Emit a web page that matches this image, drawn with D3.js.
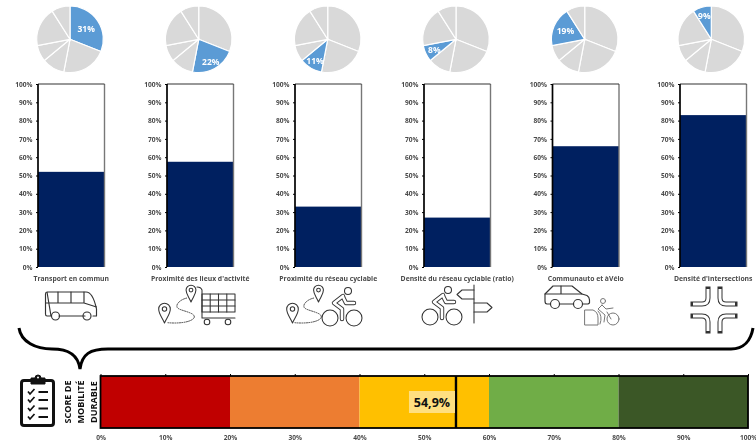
<!DOCTYPE html>
<html>
<head>
<meta charset="utf-8">
<script src="https://cdn.jsdelivr.net/npm/d3@7"></script>
<style>
html, body { margin: 0; padding: 0; background: #fff; }
svg { display: block; filter: blur(0.4px); }
text { font-family: "Open Sans", "Noto Sans", sans-serif; font-weight: 700; fill: #4a4a4a; }
.axis path { display: none; }
.axis line { stroke: #000; stroke-width: 1; }
.icon { fill: none; stroke: #333; stroke-width: 1.05; stroke-linecap: round; stroke-linejoin: round; }
</style>
</head>
<body>
<div id="chart"></div>
<script>
var categories = [
    "Transport en commun",
    "Proximité des lieux d'activité",
    "Proximité du réseau cyclable",
    "Densité du réseau cyclable (ratio)",
    "Communauto et àVélo",
    "Densité d'intersections"
];
var pie_shares = [31, 22, 11, 8, 19, 9];
var bar_values = [52, 57.5, 33, 27, 66, 83];
var bar_ticks = [0, 10, 20, 30, 40, 50, 60, 70, 80, 90, 100];
var score_band_widths = [20, 20, 20, 20, 20];
var score_band_colors = ["#c00000", "#ed7d31", "#ffc000", "#70ad47", "#3b5726"];
var score_ticks = [0, 10, 20, 30, 40, 50, 60, 70, 80, 90, 100];
var score_value = 54.9;
var score_title = ["SCORE DE", "MOBILITÉ", "DURABLE"];

// layout
var svg_size = { width: 756, height: 444 };
var panel_left = [38, 167, 295, 424, 552.5, 680];
var panel_width = 66.5;
var pie_center_x = [70, 198.7, 327.7, 456, 584.7, 711.3];
var pie_center_y = 39.3;
var pie_radius = 33.3;
var pie_label_radius = [19.5, 25, 25, 24, 21, 25];
var bar_top = 84;
var bar_bottom = 267;
var score_left = 100.5;
var score_right = 748;
var score_top = 376;
var score_bottom = 428;

var svg = d3.select("#chart")
    .append("svg")
    .attr("width", svg_size.width)
    .attr("height", svg_size.height);

function drawPie(i) {
    var g = svg.append("g")
        .attr("transform", "translate(" + pie_center_x[i] + "," + pie_center_y + ")");
    var slices = d3.pie().sort(null).value(function(d){ return d; })(pie_shares);
    var arc = d3.arc().innerRadius(0).outerRadius(pie_radius);

    g.selectAll("path")
        .data(slices)
        .enter()
        .append("path")
        .attr("d", arc)
        .attr("fill", function(d, k){ return k === i ? "#5b9bd5" : "#d9d9d9"; })
        .attr("stroke", "#fff")
        .attr("stroke-width", 1.2);

    var label_arc = d3.arc().innerRadius(pie_label_radius[i]).outerRadius(pie_label_radius[i]);
    var c = label_arc.centroid(slices[i]);
    g.append("text")
        .attr("x", c[0])
        .attr("y", c[1])
        .attr("text-anchor", "middle")
        .attr("dominant-baseline", "central")
        .style("fill", "#fff")
        .style("font-size", "8.5px")
        .text(pie_shares[i] + "%");
}

function drawBar(i) {
    var x = d3.scaleBand()
        .domain([categories[i]])
        .range([panel_left[i], panel_left[i] + panel_width]);
    var y = d3.scaleLinear().domain([0, 100]).range([bar_bottom, bar_top]);

    svg.append("rect")
        .attr("x", x(categories[i]))
        .attr("y", y(bar_values[i]))
        .attr("width", x.bandwidth())
        .attr("height", y(0) - y(bar_values[i]))
        .attr("fill", "#002060");

    // frame: the left edge is heavier, the right one is grey
    svg.append("path")
        .attr("d", d3.line()([
            [x.range()[1], y(0)], [x.range()[1], y(100)]
        ]))
        .attr("stroke", "#777")
        .attr("stroke-width", 1.4);
    svg.append("path")
        .attr("d", d3.line()([
            [x.range()[0], y(100)], [x.range()[1], y(100)]
        ]))
        .attr("stroke", "#333")
        .attr("stroke-width", 1.2);
    svg.append("path")
        .attr("d", d3.line()([
            [x.range()[0], y(0)], [x.range()[0], y(100)]
        ]))
        .attr("stroke", "#000")
        .attr("stroke-width", 1.7);

    var axis = d3.axisLeft(y)
        .tickValues(bar_ticks)
        .tickFormat(function(d){ return d + "%"; })
        .tickSize(2)
        .tickPadding(3.5);
    var axis_group = svg.append("g")
        .classed("axis", true)
        .attr("transform", "translate(" + panel_left[i] + ",0)")
        .call(axis);
    axis_group.selectAll("text").style("font-size", "6.6px");

    svg.append("text")
        .attr("x", panel_left[i] + panel_width / 2)
        .attr("y", 278)
        .attr("text-anchor", "middle")
        .attr("dominant-baseline", "central")
        .style("font-size", "6.8px")
        .text(categories[i]);
}

function drawScore() {
    var x = d3.scaleLinear().domain([0, 100]).range([score_left, score_right]);
    var starts = d3.cumsum(score_band_widths);

    svg.selectAll(".score-band")
        .data(score_band_widths)
        .enter()
        .append("rect")
        .classed("score-band", true)
        .attr("x", function(d, i){ return x(starts[i] - d); })
        .attr("y", score_top)
        .attr("width", function(d){ return x(d) - x(0); })
        .attr("height", score_bottom - score_top)
        .attr("fill", function(d, i){ return score_band_colors[i]; });

    svg.append("rect")
        .attr("x", score_left)
        .attr("y", score_top)
        .attr("width", score_right - score_left)
        .attr("height", score_bottom - score_top)
        .attr("fill", "none")
        .attr("stroke", "#000")
        .attr("stroke-width", 1.8);

    svg.append("g")
        .classed("axis", true)
        .attr("transform", "translate(0," + score_top + ")")
        .call(d3.axisTop(x).tickValues(score_ticks).tickFormat("").tickSize(2));

    var bottom_axis = svg.append("g")
        .classed("axis", true)
        .attr("transform", "translate(0," + score_bottom + ")")
        .call(d3.axisBottom(x)
            .tickValues(score_ticks)
            .tickFormat(function(d){ return d + "%"; })
            .tickSize(0)
            .tickPadding(7));
    bottom_axis.selectAll("text").style("font-size", "6.6px");

    // marker for the score and its label
    svg.append("line")
        .attr("x1", x(score_value))
        .attr("x2", x(score_value))
        .attr("y1", score_top)
        .attr("y2", score_bottom)
        .attr("stroke", "#000")
        .attr("stroke-width", 2.4);

    svg.append("rect")
        .attr("x", x(score_value) - 47)
        .attr("y", 391)
        .attr("width", 46)
        .attr("height", 22)
        .attr("fill", "#ffdf80");

    svg.append("text")
        .attr("x", x(score_value) - 24)
        .attr("y", 402.5)
        .attr("text-anchor", "middle")
        .attr("dominant-baseline", "central")
        .style("font-size", "12.5px")
        .style("fill", "#111")
        .text(String(score_value).replace(".", ",") + "%");

    svg.selectAll(".score-title")
        .data(score_title)
        .enter()
        .append("text")
        .classed("score-title", true)
        .attr("transform", function(d, i){
            return "translate(" + (67 + 13 * i) + ",402) rotate(-90)";
        })
        .attr("text-anchor", "middle")
        .attr("dominant-baseline", "central")
        .style("font-size", "9px")
        .style("fill", "#111")
        .text(function(d){ return d; });
}

function drawBrace() {
    var path = d3.path();
    path.moveTo(19, 328);
    path.bezierCurveTo(21, 342, 36, 349, 52, 349);
    path.bezierCurveTo(68, 349, 78, 354, 80, 369);
    path.bezierCurveTo(82, 354, 90, 349, 108, 349);
    path.lineTo(731, 349);
    path.bezierCurveTo(744, 349, 751, 340, 753, 328);
    svg.append("path")
        .attr("d", path.toString())
        .attr("fill", "none")
        .attr("stroke", "#000")
        .attr("stroke-width", 3);
}

// icons
function iconGroup() {
    return svg.append("g").classed("icon", true);
}

function drawPin(g, cx, top, h) {
    var w = h * 0.29;
    g.append("path").attr("d",
        "M" + cx + "," + (top + h) +
        " C" + (cx - w * 0.4) + "," + (top + h * 0.72) + " " + (cx - w) + "," + (top + h * 0.55) + " " + (cx - w) + "," + (top + h * 0.3) +
        " A" + w + "," + w + " 0 1 1 " + (cx + w) + "," + (top + h * 0.3) +
        " C" + (cx + w) + "," + (top + h * 0.55) + " " + (cx + w * 0.4) + "," + (top + h * 0.72) + " " + cx + "," + (top + h) + "Z");
    g.append("circle").attr("cx", cx).attr("cy", top + h * 0.3).attr("r", h * 0.11);
}

function drawRoute(g, dx) {
    // dotted way between the two pins
    g.append("path")
        .attr("transform", "translate(" + dx + ",0)")
        .attr("d", "M168,322.7 C176,323.5 190,323 194,318 C197,312 178,311 177,307 C176,303 182,299 187,298")
        .attr("stroke-dasharray", "1 1.3")
        .attr("stroke-width", 0.9);
}

// the rider is a thick dark line with a thinner white one on top, which leaves an outline
function drawCyclist(x0, wheel_y, r, color) {
    var limbs = [
        [[x0 + 13, wheel_y - 22], [x0 + 4, wheel_y - 15], [x0 + 12, wheel_y - 9], [x0 + 12, wheel_y + 1]],
        [[x0 + 13, wheel_y - 21], [x0 + 16, wheel_y - 15], [x0 + 24, wheel_y - 15]]
    ];
    var line = d3.line();
    var g = iconGroup().style("stroke", color);
    g.append("circle").attr("cx", x0).attr("cy", wheel_y).attr("r", r);
    g.append("circle").attr("cx", x0 + 24).attr("cy", wheel_y).attr("r", r);
    g.append("circle").attr("cx", x0 + 18).attr("cy", wheel_y - 27).attr("r", 3.5);
    limbs.forEach(function(limb){
        g.append("path").attr("d", line(limb)).style("stroke-width", 4.4);
    });
    limbs.forEach(function(limb){
        g.append("path").attr("d", line(limb)).style("stroke", "#fff").style("stroke-width", 2.6);
    });
}

function drawBus() {
    var g = iconGroup().style("stroke-width", 1.15);
    g.append("path").attr("d", "M47,292 H86 C92,292 95,302 96.5,309 V316 H93 M85,316 H59 M51,316 H47 Q45.5,316 45.5,314 V294 Q45.5,292 47,292Z");
    g.append("path").attr("d", "M45.5,303 H84 L96.5,307 M58,292 V303 M71,292 V303 M84,292 V303");
    g.append("circle").attr("cx", 55.5).attr("cy", 316).attr("r", 4);
    g.append("circle").attr("cx", 87).attr("cy", 316).attr("r", 4);
}

function drawCart() {
    var g = iconGroup();
    drawPin(g, 164.5, 303, 20);
    drawPin(g, 191, 285, 17);
    drawRoute(g, 0);
    var c = iconGroup();
    c.append("path").attr("d", "M197,287 Q201,287 202,290 V318 H235");
    c.append("rect").attr("x", 202).attr("y", 294).attr("width", 33).attr("height", 18);
    c.append("path").attr("d", "M202,300 H235 M202,306 H235 M210.2,294 V312 M218.5,294 V312 M226.8,294 V312");
    c.append("circle").attr("cx", 207).attr("cy", 322).attr("r", 2.8);
    c.append("circle").attr("cx", 228).attr("cy", 322).attr("r", 2.8);
}

function drawCycleRoute() {
    var g = iconGroup();
    drawPin(g, 292.5, 303, 20);
    drawPin(g, 318.5, 285, 17);
    drawRoute(g, 127);
    drawCyclist(330, 318, 8, "#333");
}

function drawCycleSign() {
    drawCyclist(430, 317, 8, "#333");
    var g = iconGroup();
    g.append("path").attr("d", "M474,285 V323");
    g.append("path").attr("d", "M474,290 H462 L457,294.5 L462,299 H474");
    g.append("path").attr("d", "M474,303 H487 L492,307.5 L487,312 H474");
}

function drawCarScooter() {
    var g = iconGroup().style("stroke-width", 1.15);
    g.append("path").attr("d", "M550.5,304 H547 Q545,304 545,301 V294 L553,286 H572 L582,294 L587,295.5 Q589.5,297 589.5,300 V303 L588,304 H582.5 M573.5,304 H559.5");
    g.append("path").attr("d", "M545,294 H582 M561,286 V294");
    g.append("circle").attr("cx", 555).attr("cy", 304).attr("r", 4.5);
    g.append("circle").attr("cx", 578).attr("cy", 304).attr("r", 4.5);

    var s = iconGroup().style("stroke", "#777").style("stroke-width", 1);
    s.append("path").attr("d", "M585,310 H593 Q598,312 598,318 V325 H585Z");
    s.append("path").attr("d", "M598,311 Q603,316 600,324");
    s.append("circle").attr("cx", 613).attr("cy", 319).attr("r", 6);
    s.append("circle").attr("cx", 603).attr("cy", 301).attr("r", 2.5);
    s.append("path").attr("d", "M602,305 L598,309 L605,315 L604,322 M602,305 L606,309 L613,308 M607,312 L611,319");
}

function drawIntersection() {
    var corners = [[1, 1], [-1, 1], [1, -1], [-1, -1]];
    var g = svg.append("g")
        .attr("fill", "none")
        .attr("transform", "translate(714,310)");
    corners.forEach(function(c){
        // outer stroke with square caps closes the two ends of the inner white stroke
        g.append("path")
            .attr("d", "M-6,-21 V-12 Q-6,-6 -12,-6 H-21")
            .attr("transform", "scale(" + c[0] + "," + c[1] + ")")
            .attr("stroke", "#333")
            .attr("stroke-width", 5)
            .attr("stroke-linecap", "square");
        g.append("path")
            .attr("d", "M-6,-21 V-12 Q-6,-6 -12,-6 H-21")
            .attr("transform", "scale(" + c[0] + "," + c[1] + ")")
            .attr("stroke", "#fff")
            .attr("stroke-width", 3);
    });
}

function drawClipboard() {
    var g = svg.append("g").attr("fill", "none").attr("stroke", "#111");
    g.append("rect")
        .attr("x", 21.5).attr("y", 380.5).attr("width", 32).attr("height", 45).attr("rx", 2.5)
        .attr("stroke-width", 3);
    g.append("path")
        .attr("d", "M31,384 V378 H35 A3,3 0 0 1 41,378 H45 V384Z")
        .attr("fill", "#111")
        .attr("stroke-width", 1);
    g.append("circle").attr("cx", 38).attr("cy", 377.5).attr("r", 1).attr("fill", "#fff").attr("stroke", "none");
    [392, 400, 408.5, 417].forEach(function(ly){
        g.append("path").attr("d", "M28," + (ly - 0.5) + " L30," + (ly + 2) + " L34.5," + (ly - 3))
            .attr("stroke-width", 1.7);
        g.append("path").attr("d", "M38.5," + ly + " H48").attr("stroke-width", 2);
    });
}

pie_shares.forEach(function(d, i){
    drawPie(i);
    drawBar(i);
});
drawBus();
drawCart();
drawCycleRoute();
drawCycleSign();
drawCarScooter();
drawIntersection();
drawBrace();
drawClipboard();
drawScore();
</script>
</body>
</html>
